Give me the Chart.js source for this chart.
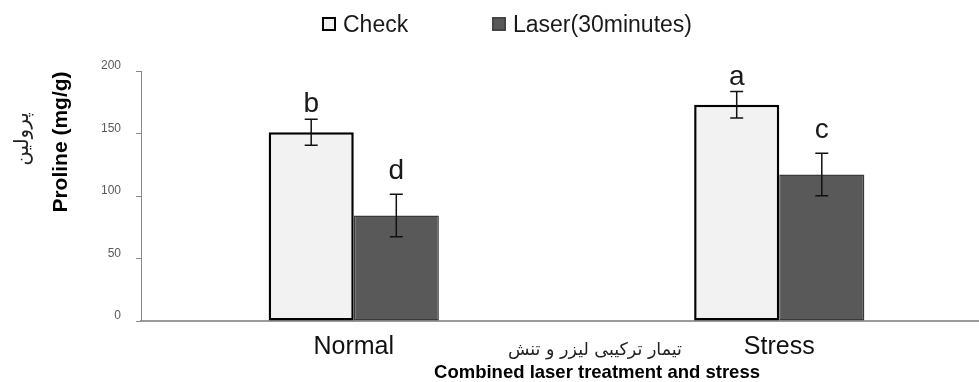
<!DOCTYPE html>
<html><head><meta charset="utf-8">
<script src="https://cdn.jsdelivr.net/npm/chart.js@4"></script>
<style>
html,body{margin:0;padding:0;overflow:hidden;background:#fff;width:979px;height:382px}
#wrap{width:992px;height:382px;position:relative}
</style></head>
<body><div id="wrap"><canvas id="c" width="992" height="382"></canvas></div>
<script>
const categories = ['Normal', 'Stress'];
const seriesNames = ['Check', 'Laser(30minutes)'];
const checkValues = [151, 173];
const checkErrors = [10.4, 10.6];
const laserValues = [84.4, 117.2];
const laserErrors = [17, 17];
const checkLetters = ['b', 'a'];
const laserLetters = ['d', 'c'];
const yTicks = [0, 50, 100, 150, 200];
const yTitleFa = 'پرولین';
const yTitleEn = 'Proline (mg/g)';
const xTitleFa = 'تیمار ترکیبی لیزر و تنش';
const xTitleEn = 'Combined laser treatment and stress';

const styles = {
  check: {fill: '#f2f2f2', border: '#000000', bw: 2.5, letterGap: 7},
  laser: {fill: '#595959', border: '#3a3a3a', bw: 1.5, letterGap: 15}
};

const extras = {
  id: 'extras',
  afterDatasetsDraw(chart) {
    const ctx = chart.ctx, y = chart.scales.y;
    chart.data.datasets.forEach((ds, di) => {
      const meta = chart.getDatasetMeta(di);
      meta.data.forEach((bar, i) => {
        const v = ds.data[i], e = ds.errors[i];
        const yt = y.getPixelForValue(v + e), yb = y.getPixelForValue(v - e);
        const x = bar.x;
        ctx.save();
        ctx.strokeStyle = '#111';
        ctx.lineWidth = 1.5;
        ctx.beginPath();
        ctx.moveTo(x, yt); ctx.lineTo(x, yb);
        ctx.moveTo(x - 6.5, yt); ctx.lineTo(x + 6.5, yt);
        ctx.moveTo(x - 6.5, yb); ctx.lineTo(x + 6.5, yb);
        ctx.stroke();
        ctx.fillStyle = '#1a1a1a';
        ctx.font = '28px "Liberation Sans", Arial, sans-serif';
        ctx.textAlign = 'center';
        ctx.textBaseline = 'alphabetic';
        ctx.fillText(ds.letters[i], x, yt - ds.letterGap);
        ctx.restore();
      });
    });
  },
  afterDraw(chart) {
    const ctx = chart.ctx;
    ctx.save();
    // Legend
    const items = [
      {x: 322, text: seriesNames[0], st: styles.check},
      {x: 492, text: seriesNames[1], st: styles.laser}
    ];
    items.forEach(it => {
      ctx.fillStyle = it.st.fill;
      ctx.fillRect(it.x, 17, 14, 14);
      ctx.strokeStyle = it.st.border;
      ctx.lineWidth = it === items[0] ? 2 : 1.2;
      ctx.strokeRect(it.x + 1, 18, 12, 12);
      ctx.fillStyle = '#1a1a1a';
      ctx.font = '23px "Liberation Sans", Arial, sans-serif';
      ctx.textAlign = 'left';
      ctx.textBaseline = 'alphabetic';
      ctx.fillText(it.text, it.x + 21, 31.5);
    });
    // Y axis titles
    ctx.save();
    ctx.translate(23, 139);
    ctx.rotate(-Math.PI / 2);
    ctx.fillStyle = '#222';
    ctx.font = '20px "DejaVu Sans", sans-serif';
    ctx.textAlign = 'center';
    ctx.textBaseline = 'middle';
    ctx.fillText(yTitleFa, 0, 0);
    ctx.restore();
    ctx.save();
    ctx.translate(61, 142);
    ctx.rotate(-Math.PI / 2);
    ctx.fillStyle = '#000';
    ctx.font = 'bold 21px "Liberation Sans", Arial, sans-serif';
    ctx.textAlign = 'center';
    ctx.textBaseline = 'middle';
    ctx.fillText(yTitleEn, 0, 0);
    ctx.restore();
    // X axis titles
    ctx.fillStyle = '#222';
    ctx.font = '17.5px "DejaVu Sans", sans-serif';
    ctx.textAlign = 'center';
    ctx.textBaseline = 'middle';
    ctx.fillText(xTitleFa, 595, 350);
    ctx.fillStyle = '#000';
    ctx.font = 'bold 18.5px "Liberation Sans", Arial, sans-serif';
    ctx.fillText(xTitleEn, 597, 373);
    ctx.restore();
  }
};

new Chart(document.getElementById('c'), {
  type: 'bar',
  data: {
    labels: categories,
    datasets: [
      {label: seriesNames[0], data: checkValues, errors: checkErrors, letters: checkLetters,
       letterGap: styles.check.letterGap,
       backgroundColor: styles.check.fill, borderColor: styles.check.border, borderWidth: styles.check.bw,
       borderSkipped: false, categoryPercentage: 0.4, barPercentage: 1.0},
      {label: seriesNames[1], data: laserValues, errors: laserErrors, letters: laserLetters,
       letterGap: styles.laser.letterGap,
       backgroundColor: styles.laser.fill, borderColor: styles.laser.border, borderWidth: styles.laser.bw,
       borderSkipped: false, categoryPercentage: 0.4, barPercentage: 1.0}
    ]
  },
  options: {
    responsive: false,
    animation: false,
    devicePixelRatio: 1,
    layout: {padding: {top: 71, left: 0, right: 0, bottom: 0}},
    plugins: {legend: {display: false}, tooltip: {enabled: false}},
    scales: {
      x: {
        grid: {display: false, drawTicks: false},
        border: {display: true, color: '#9a9a9a', width: 2},
        ticks: {color: '#111', font: {family: '"Liberation Sans", Arial, sans-serif', size: 25}, padding: 11, maxRotation: 0},
        afterFit(scale) { scale.height = 61; }
      },
      y: {
        min: 0, max: 200,
        afterBuildTicks(scale) { scale.ticks = yTicks.map(v => ({value: v})); },
        grid: {display: true, drawOnChartArea: false, drawTicks: true, tickLength: 5, color: '#888'},
        border: {display: true, color: '#888', width: 1},
        ticks: {color: '#595959', font: {family: '"Liberation Sans", Arial, sans-serif', size: 12}, padding: 15, labelOffset: -5},
        afterFit(scale) { scale.width = 141; }
      }
    }
  },
  plugins: [extras]
});
</script>
</body></html>
